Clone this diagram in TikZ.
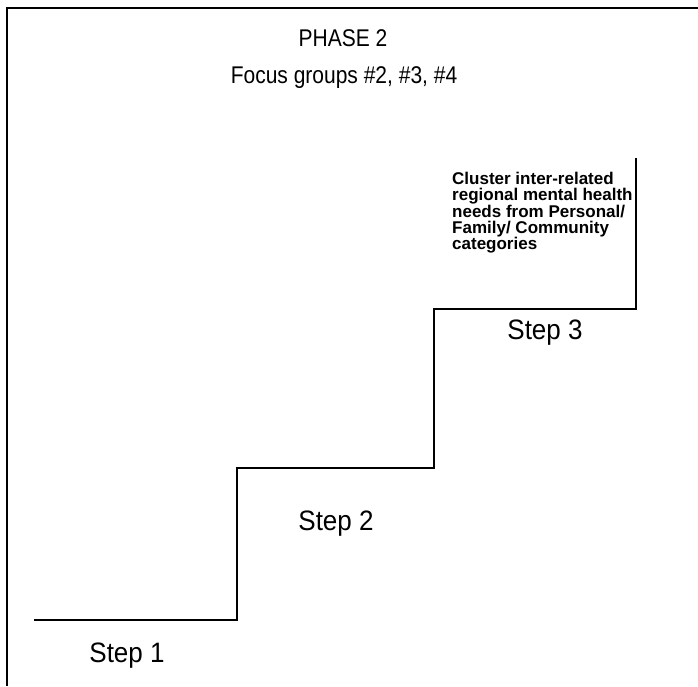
\documentclass[tikz,border=0pt]{standalone}
\usepackage{fontspec}
\setmainfont{Liberation Sans}
\begin{document}
\begin{tikzpicture}[x=1pt,y=-1pt,
  frameline/.style={line width=2pt,black},
  stairline/.style={line width=2pt,black,line join=miter},
  titletext/.style={font=\fontsize{21}{24}\selectfont,inner sep=0pt},
  steplabel/.style={font=\fontsize{26}{28}\selectfont,inner sep=0pt},
  notetext/.style={font=\fontsize{17}{16.3}\selectfont\bfseries,align=left,inner sep=0pt}]
\useasboundingbox (0,0) rectangle (698,686);
% frame
\draw[frameline] (7,686) -- (7,8) -- (698,8);
% staircase
\coordinate (s0) at (34,620);
\coordinate (s1) at (237,620);
\coordinate (s2) at (237,468);
\coordinate (s3) at (434,468);
\coordinate (s4) at (434,309);
\coordinate (s5) at (636,309);
\coordinate (s6) at (636,158);
\draw[stairline] (s0) -- (s1) -- (s2) -- (s3) -- (s4) -- (s5) -- (s6);
% texts
\node[titletext] (phase) at (343,38) {\scalebox{1}[1.15]{PHASE 2}};
\node[titletext] (focus) at (344,78) {\scalebox{1}[1.15]{Focus groups \#2, \#3, \#4}};
\node[steplabel] (st1) at (127,656) {\scalebox{1}[1.08]{Step 1}};
\node[steplabel] (st2) at (336,524) {\scalebox{1}[1.08]{Step 2}};
\node[steplabel] (st3) at (545,333) {\scalebox{1}[1.08]{Step 3}};
\node[notetext,anchor=north west] (note) at (452,172) {Cluster inter-related\\regional mental health\\needs from Personal/\\Family/ Community\\categories};
\end{tikzpicture}
\end{document}
